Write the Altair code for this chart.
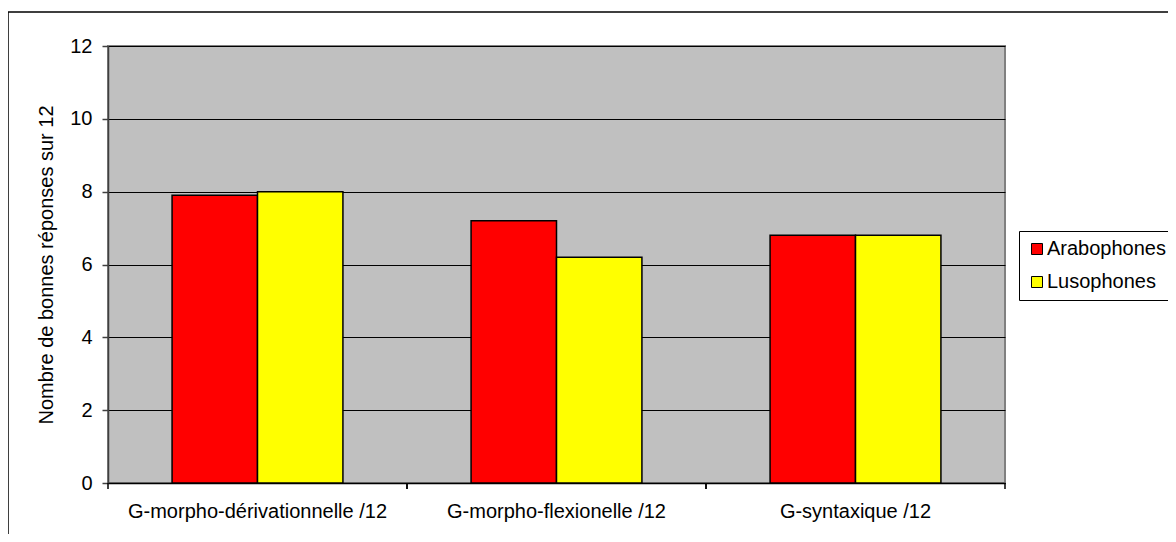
import altair as alt
import pandas as pd

categories = ["G-morpho-dérivationnelle /12", "G-morpho-flexionelle /12", "G-syntaxique /12"]
series = ["Arabophones", "Lusophones"]
arabophones = [7.9, 7.2, 6.8]
lusophones = [8.0, 6.2, 6.8]
colors = ["#FF0000", "#FFFF00"]
y_ticks = [0, 2, 4, 6, 8, 10, 12]
y_title = "Nombre de bonnes réponses sur 12"

rows = []
for c, a, l in zip(categories, arabophones, lusophones):
    rows.append({"cat": c, "grp": series[0], "val": a})
    rows.append({"cat": c, "grp": series[1], "val": l})
df = pd.DataFrame(rows)
cat_df = pd.DataFrame({"cat": categories})
frame_df = pd.DataFrame({"k": [0]})

FONT = "Liberation Sans"
W, H = 897, 437

x_scale = alt.Scale(domain=categories, paddingInner=0, paddingOuter=0)

bars = alt.Chart(df).mark_bar(stroke="black", strokeWidth=1.5).encode(
    x=alt.X("cat:N", scale=x_scale, axis=alt.Axis(
        title=None, labelAngle=0, ticks=False, tickSize=0, labelPadding=18,
        domainColor="black", domainWidth=1.5, labelFontSize=20, labelLimit=0,
        labelColor="black", labelFont=FONT, grid=False)),
    xOffset=alt.XOffset("grp:N", scale=alt.Scale(domain=series, paddingInner=0, paddingOuter=0.75)),
    y=alt.Y("val:Q", scale=alt.Scale(domain=[0, 12], nice=False), axis=alt.Axis(
        values=y_ticks, title=y_title, grid=True, gridColor="black", gridWidth=1,
        tickSize=6, tickColor="#404040", tickWidth=1.5, labelPadding=10,
        domainColor="#404040", domainWidth=1.5, labelFontSize=20, labelColor="black",
        labelFont=FONT, titleFont=FONT, titleFontSize=20, titleFontWeight="normal",
        titleColor="black", titlePadding=13)),
    color=alt.Color("grp:N", scale=alt.Scale(domain=series, range=colors), legend=alt.Legend(
        title=None, orient="none", legendX=911, legendY=185, strokeColor="black",
        fillColor="white", padding=8, symbolType="square", symbolSize=121,
        symbolStrokeColor="black", symbolStrokeWidth=1, labelFontSize=20,
        labelFont=FONT, labelColor="black", rowPadding=13, labelOffset=0,
        labelLimit=0, cornerRadius=0)),
)

ticks_start = alt.Chart(cat_df).mark_rule(color="black", strokeWidth=1.5).encode(
    x=alt.X("cat:N", scale=x_scale, bandPosition=0),
    y=alt.value(H), y2=alt.value(H + 6),
)
ticks_end = alt.Chart(cat_df).mark_rule(color="black", strokeWidth=1.5).encode(
    x=alt.X("cat:N", scale=x_scale, bandPosition=1),
    y=alt.value(H), y2=alt.value(H + 6),
)

frame = alt.Chart(frame_df).mark_rect(fillOpacity=0, stroke="black", strokeWidth=1.5).encode(
    x=alt.value(-100), x2=alt.value(1300), y=alt.value(-34), y2=alt.value(700),
)

chart = alt.layer(bars, ticks_start, ticks_end, frame).properties(
    width=W, height=H,
    autosize=alt.AutoSizeParams(type="none"),
    padding={"left": 100, "top": 38, "right": 163, "bottom": 51},
    background="white",
).configure_view(
    fill="#C0C0C0", stroke="#808080", strokeWidth=2,
).configure_legend(strokeWidth=1)

chart.save("out.html", embed_options={"renderer": "svg", "actions": False})
